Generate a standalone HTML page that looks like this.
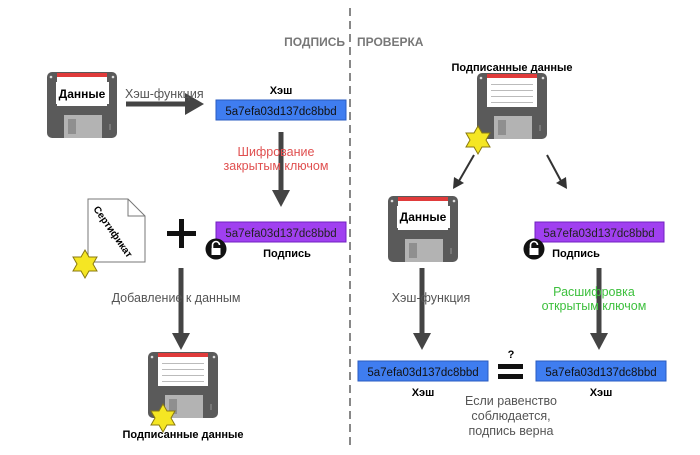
<!DOCTYPE html>
<html><head><meta charset="utf-8"><style>
html,body{margin:0;padding:0;background:#fff;}
svg{display:block;}
text{font-family:"Liberation Sans","DejaVu Sans",sans-serif;}
</style></head><body>
<svg width="700" height="455" viewBox="0 0 700 455" xmlns="http://www.w3.org/2000/svg">
<defs>
<g id="fl">
<rect x="0" y="0" width="70" height="66" rx="5" fill="#5a5a5a"/>
<circle cx="4" cy="5" r="1.3" fill="#ddd"/><circle cx="66" cy="5" r="1.3" fill="#ddd"/>
<rect x="10" y="1" width="50" height="33" fill="#fff"/>
<rect x="10" y="1" width="50" height="4" fill="#e03b3b"/>
<rect x="14" y="11" width="42" height="1" fill="#bbb"/>
<rect x="14" y="17" width="42" height="1" fill="#bbb"/>
<rect x="14" y="23" width="42" height="1" fill="#bbb"/>
<rect x="14" y="29" width="42" height="1" fill="#bbb"/>
<rect x="17" y="43" width="38" height="23" fill="#b3b3b3"/>
<rect x="21" y="47" width="8" height="15" fill="#8f8f8f"/>
<rect x="62" y="52" width="2" height="6" fill="#777"/>
</g>
<polygon id="star" points="0,-14 4,-7 12,-7 8,0 12,7 4,7 0,14 -4,7 -12,7 -8,0 -12,-7 -4,-7" fill="#f5e623" stroke="#8a7a10" stroke-width="1"/>
<g id="lock"><circle r="10.5" fill="#111"/><path d="M-3.5,-1 v-3 a3.5,3.5 0 0 1 7,0" fill="none" stroke="#fff" stroke-width="1.6"/><rect x="-4.5" y="-1" width="9" height="7" fill="#fff"/></g>
</defs>

<line x1="350" y1="8" x2="350" y2="450" stroke="#888" stroke-width="2" stroke-dasharray="8,5"/>
<text x="345" y="46" font-size="12" font-weight="bold" fill="#777" text-anchor="end">ПОДПИСЬ</text>
<text x="357" y="46" font-size="12" font-weight="bold" fill="#777">ПРОВЕРКА</text>

<!-- left -->
<use href="#fl" x="47" y="72"/>
<rect x="56" y="82" width="53" height="22" fill="#fff"/>
<text x="82" y="98" font-size="12" font-weight="bold" text-anchor="middle">Данные</text>
<line x1="126" y1="104" x2="188" y2="104" stroke="#444" stroke-width="5"/>
<polygon points="185,93 204,104 185,115" fill="#444"/>
<text x="125" y="98" font-size="12.5" fill="#555">Хэш-функция</text>
<text x="281" y="94" font-size="11" font-weight="bold" text-anchor="middle">Хэш</text>
<rect x="216" y="100" width="130" height="20" fill="#3f7df0" stroke="#2a5bc0"/>
<text x="281" y="115" font-size="11.5" text-anchor="middle" fill="#111">5a7efa03d137dc8bbd</text>
<line x1="281" y1="132" x2="281" y2="190" stroke="#444" stroke-width="5"/>
<polygon points="272,190 290,190 281,207" fill="#444"/>
<text x="276" y="156" font-size="12.5" fill="#e05050" text-anchor="middle">Шифрование</text>
<text x="276" y="170" font-size="12.5" fill="#e05050" text-anchor="middle">закрытым ключом</text>
<rect x="216" y="222" width="130" height="20" fill="#a040f0" stroke="#7020c0"/>
<text x="281" y="237" font-size="11.5" text-anchor="middle" fill="#222">5a7efa03d137dc8bbd</text>
<text x="287" y="257" font-size="11" font-weight="bold" text-anchor="middle">Подпись</text>
<use href="#lock" x="216" y="249"/>
<rect x="167" y="231" width="29" height="5" fill="#111"/>
<rect x="179" y="219" width="5" height="29" fill="#111"/>
<path d="M88,199 L128,199 L145,216 L145,262 L88,262 Z" fill="#fff" stroke="#777"/>
<path d="M128,199 L128,216 L145,216" fill="none" stroke="#777"/>
<text x="0" y="0" font-size="10" font-weight="bold" transform="translate(93,209) rotate(55)">Сертификат</text>
<use href="#star" x="85" y="264"/>
<line x1="181" y1="268" x2="181" y2="333" stroke="#444" stroke-width="5"/>
<polygon points="172,333 190,333 181,350" fill="#444"/>
<text x="176" y="302" font-size="12.5" fill="#555" text-anchor="middle">Добавление к данным</text>
<use href="#fl" x="148" y="352"/>
<use href="#star" x="163" y="418"/>
<text x="183" y="438" font-size="11" font-weight="bold" text-anchor="middle">Подписанные данные</text>

<!-- right -->
<text x="512" y="71" font-size="11" font-weight="bold" text-anchor="middle">Подписанные данные</text>
<use href="#fl" x="477" y="73"/>
<use href="#star" x="478" y="140"/>
<line x1="474" y1="155" x2="459" y2="181" stroke="#333" stroke-width="2"/>
<polygon points="453,189 454,177 464,183" fill="#333"/>
<line x1="547" y1="155" x2="561" y2="181" stroke="#333" stroke-width="2"/>
<polygon points="567,189 556,183 566,177" fill="#333"/>
<use href="#fl" x="388" y="196"/>
<rect x="397" y="206" width="53" height="22" fill="#fff"/>
<text x="423" y="221" font-size="12" font-weight="bold" text-anchor="middle">Данные</text>
<rect x="535" y="222" width="129" height="20" fill="#a040f0" stroke="#7020c0"/>
<text x="599" y="237" font-size="11.5" text-anchor="middle" fill="#222">5a7efa03d137dc8bbd</text>
<text x="576" y="257" font-size="11" font-weight="bold" text-anchor="middle">Подпись</text>
<use href="#lock" x="534" y="249"/>
<line x1="422" y1="268" x2="422" y2="333" stroke="#444" stroke-width="5"/>
<polygon points="413,333 431,333 422,350" fill="#444"/>
<text x="431" y="302" font-size="12.5" fill="#555" text-anchor="middle">Хэш-функция</text>
<line x1="599" y1="268" x2="599" y2="333" stroke="#444" stroke-width="5"/>
<polygon points="590,333 608,333 599,350" fill="#444"/>
<text x="594" y="296" font-size="12.5" fill="#3ec03e" text-anchor="middle">Расшифровка</text>
<text x="594" y="310" font-size="12.5" fill="#3ec03e" text-anchor="middle">открытым ключом</text>
<rect x="358" y="361" width="130" height="20" fill="#3f7df0" stroke="#2a5bc0"/>
<text x="423" y="376" font-size="11.5" text-anchor="middle" fill="#111">5a7efa03d137dc8bbd</text>
<rect x="536" y="361" width="130" height="20" fill="#3f7df0" stroke="#2a5bc0"/>
<text x="601" y="376" font-size="11.5" text-anchor="middle" fill="#111">5a7efa03d137dc8bbd</text>
<text x="423" y="396" font-size="11" font-weight="bold" text-anchor="middle">Хэш</text>
<text x="601" y="396" font-size="11" font-weight="bold" text-anchor="middle">Хэш</text>
<rect x="498" y="364" width="25" height="5" fill="#111"/>
<rect x="498" y="374" width="25" height="5" fill="#111"/>
<text x="511" y="358" font-size="11" font-weight="bold" text-anchor="middle">?</text>
<text x="511" y="405" font-size="12.5" fill="#555" text-anchor="middle">Если равенство</text>
<text x="511" y="420" font-size="12.5" fill="#555" text-anchor="middle">соблюдается,</text>
<text x="511" y="435" font-size="12.5" fill="#555" text-anchor="middle">подпись верна</text>
</svg>
</body></html>
